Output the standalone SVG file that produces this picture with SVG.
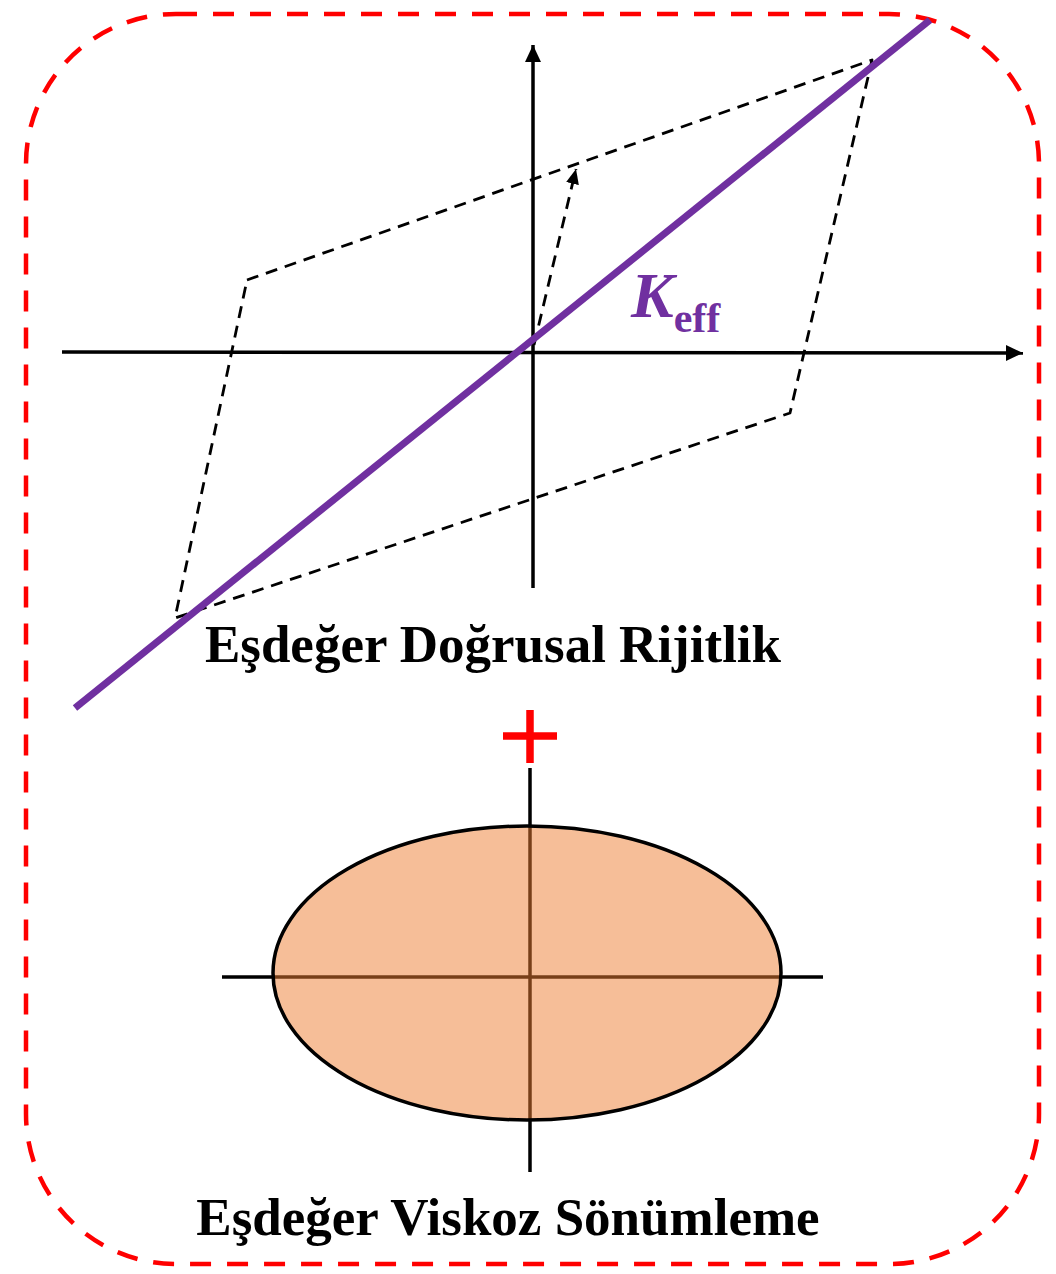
<svg xmlns="http://www.w3.org/2000/svg" width="1056" height="1274" viewBox="0 0 1056 1274">
  <style>
    .frame { fill: none; stroke: #FF0000; stroke-width: 4.5; stroke-dasharray: 21 16; }
    .axis { fill: none; stroke: #000000; stroke-width: 3.5; }
    .loop { fill: none; stroke: #000000; stroke-width: 2.8; stroke-dasharray: 12 8; stroke-linejoin: round; }
    .keff { fill: none; stroke: #7030A0; stroke-width: 7; }
    .title { font-family: "Liberation Serif", "Times New Roman", serif; font-weight: bold; fill: #000000; }
    .lbl { font-family: "Liberation Serif", "Times New Roman", serif; font-weight: bold; fill: #7030A0; }
    .plus { stroke: #FF0000; stroke-width: 7.5; fill: none; }
  </style>
  <defs>
    <marker id="arrowAxis" markerUnits="userSpaceOnUse" markerWidth="18" markerHeight="18" viewBox="0 0 18 18" refX="17" refY="9" orient="auto">
      <path d="M0,1 L17,9 L0,17 Z" fill="#000000"/>
    </marker>
    <marker id="arrowDash" markerUnits="userSpaceOnUse" markerWidth="16" markerHeight="14" viewBox="0 0 16 14" refX="15" refY="7" orient="auto">
      <path d="M0,0.5 L15,7 L0,13.5 Z" fill="#000000"/>
    </marker>
  </defs>

  <g id="frame">
    <rect class="frame" x="26" y="14" width="1013" height="1250" rx="150" ry="150"/>
  </g>

  <g id="hysteresis-diagram">
    <g id="axes">
      <line class="axis" x1="62" y1="352" x2="1023" y2="353" marker-end="url(#arrowAxis)"/>
      <line class="axis" x1="533" y1="588" x2="533" y2="45" marker-end="url(#arrowAxis)"/>
    </g>
    <g id="loop">
      <polygon class="loop" points="247,280 872,60 790,413 175,618"/>
    </g>
    <g id="connectors">
      <line class="loop" x1="534" y1="345" x2="576" y2="169" marker-end="url(#arrowDash)"/>
    </g>
    <g id="keff-line">
      <line class="keff" x1="75" y1="708" x2="930" y2="20"/>
    </g>
    <g id="keff-label">
      <text class="lbl" x="631" y="317" font-size="64" font-style="italic">K<tspan font-size="42" font-style="normal" dy="15">eff</tspan></text>
    </g>
    <g id="title-stiffness">
      <text class="title" x="493" y="662" font-size="53" text-anchor="middle">Eşdeğer Doğrusal Rijitlik</text>
    </g>
  </g>

  <g id="plus-sign">
    <line class="plus" x1="530" y1="710" x2="530" y2="763"/>
    <line class="plus" x1="503" y1="736" x2="557" y2="736"/>
  </g>

  <g id="damping-diagram">
    <g id="damping-axes">
      <line class="axis" x1="222" y1="977" x2="823" y2="977"/>
      <line class="axis" x1="530" y1="768" x2="530" y2="1172"/>
    </g>
    <g id="ellipse">
      <ellipse cx="527" cy="973" rx="254" ry="147" fill="#ED7D31" fill-opacity="0.5" stroke="#000000" stroke-width="3.5"/>
    </g>
    <g id="title-damping">
      <text class="title" x="508" y="1235" font-size="53" text-anchor="middle">Eşdeğer Viskoz Sönümleme</text>
    </g>
  </g>
</svg>
